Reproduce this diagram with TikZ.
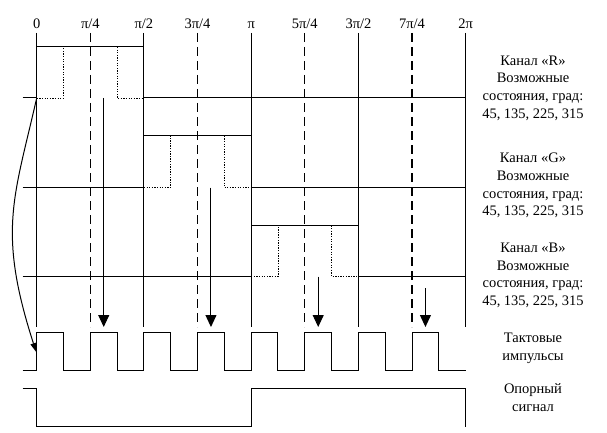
\documentclass[tikz,border=0pt]{standalone}
\usepackage{fontspec}
\setmainfont{Liberation Serif}
\usetikzlibrary{arrows.meta}
\newcommand\xpos[1]{36.7+26.81*(#1)}
\begin{document}
\begin{tikzpicture}[x=1pt,y=-1pt,
  wave/.style={line width=1pt},
  dotline/.style={line width=0.9pt, dash pattern=on 1.3pt off 1.3pt},
  gridline/.style={line width=1pt},
  dgrid/.style={line width=1.3pt, dash pattern=on 9pt off 5pt},
  lbl/.style={font=\fontsize{14.5}{17.7}\selectfont, inner sep=0pt},
  side/.style={lbl, align=center},
  sample/.style={line width=1pt, -{Triangle[length=12pt,width=11pt]}},
  curvearrow/.style={line width=1pt, -{Triangle[length=9pt,width=6pt]}},
]
\useasboundingbox (0,0) rectangle (607,433);

% top labels
\foreach \k/\t in {0/0,1/{π/4},2/{π/2},3/{3π/4},4/π,5/{5π/4},6/{3π/2},7/{7π/4},8/{2π}}
  \node[lbl, anchor=base] (lab\k) at ({\xpos{2*\k}},29) {\t};

% vertical grid lines
\foreach \k in {0,4,8,12,16}
  \draw[gridline] ({\xpos{\k}},33) -- ({\xpos{\k}},327);
\foreach \k in {2,6,10,14}
  \draw[dgrid] ({\xpos{\k}},33) -- ({\xpos{\k}},327);

% channel R
\draw[wave] (22.7,98) -- ({\xpos{0}},98);
\draw[wave] ({\xpos{4}},98) -- ({\xpos{16}},98);
\draw[wave] ({\xpos{0}},47) -- ({\xpos{4}},47);
\draw[dotline] ({\xpos{0}},98) -- ({\xpos{1}},98) -- ({\xpos{1}},47);
\draw[dotline] ({\xpos{3}},47) -- ({\xpos{3}},98) -- ({\xpos{4}},98);

% channel G
\draw[wave] (22.7,187.5) -- ({\xpos{4}},187.5);
\draw[wave] ({\xpos{8}},187.5) -- ({\xpos{16}},187.5);
\draw[wave] ({\xpos{4}},135.7) -- ({\xpos{8}},135.7);
\draw[dotline] ({\xpos{4}},187.5) -- ({\xpos{5}},187.5) -- ({\xpos{5}},135.7);
\draw[dotline] ({\xpos{7}},135.7) -- ({\xpos{7}},187.5) -- ({\xpos{8}},187.5);

% channel B
\draw[wave] (22.7,276.5) -- ({\xpos{8}},276.5);
\draw[wave] ({\xpos{12}},276.5) -- ({\xpos{16}},276.5);
\draw[wave] ({\xpos{8}},225.5) -- ({\xpos{12}},225.5);
\draw[dotline] ({\xpos{8}},276.5) -- ({\xpos{9}},276.5) -- ({\xpos{9}},225.5);
\draw[dotline] ({\xpos{11}},225.5) -- ({\xpos{11}},276.5) -- ({\xpos{12}},276.5);

% clock pulses
\draw[wave] (22.7,370.3)
  \foreach \k in {0,2,...,14} { -- ({\xpos{\k}},370.3) -- ({\xpos{\k}},332.7)
    -- ({\xpos{\k+1}},332.7) -- ({\xpos{\k+1}},370.3) }
  -- ({\xpos{16}},370.3);

% reference signal
\draw[wave] (22.7,388.7) -- ({\xpos{0}},388.7) -- ({\xpos{0}},426.7)
  -- ({\xpos{8}},426.7) -- ({\xpos{8}},388.7) -- ({\xpos{16}},388.7) -- ({\xpos{16}},426.7);

% sampling arrows
\coordinate (s1) at ({\xpos{2.5}},98);
\coordinate (e1) at ({\xpos{2.5}},327);
\coordinate (s2) at ({\xpos{6.5}},187.5);
\coordinate (e2) at ({\xpos{6.5}},327);
\coordinate (s3) at ({\xpos{10.5}},276.5);
\coordinate (e3) at ({\xpos{10.5}},327);
\coordinate (s4) at ({\xpos{14.5}},288);
\coordinate (e4) at ({\xpos{14.5}},327);
\foreach \i in {1,2,3,4} \draw[sample] (s\i) -- (e\i);

% curved arrow
\coordinate (cs) at ({\xpos{0}},98);
\coordinate (ce) at (36.2,352);
\draw[curvearrow] (cs) .. controls (14,198) and (-2.8,231) .. (ce);

% side labels
\node[side] (tR) at (533,88) {Канал «R»\\Возможные\\состояния, град:\\45, 135, 225, 315};
\node[side] (tG) at (533,185.5) {Канал «G»\\Возможные\\состояния, град:\\45, 135, 225, 315};
\node[side] (tB) at (533,275.5) {Канал «B»\\Возможные\\состояния, град:\\45, 135, 225, 315};
\node[side] (tC) at (533,348) {Тактовые\\импульсы};
\node[side] (tO) at (533,397.5) {Опорный\\сигнал};
\end{tikzpicture}
\end{document}
